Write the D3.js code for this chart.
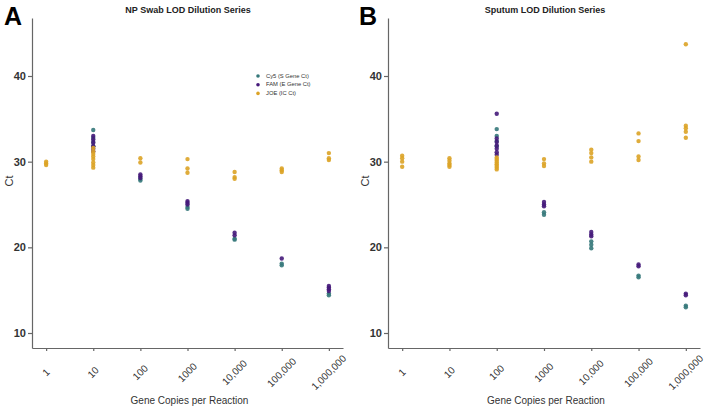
<!DOCTYPE html>
<html><head><meta charset="utf-8">
<script src="https://cdn.jsdelivr.net/npm/d3@7"></script>
<style>
body{margin:0;background:#fff;}
svg{display:block;font-family:Arial,"Liberation Sans",sans-serif;}
</style></head>
<body>
<svg id="chart" width="705" height="414"></svg>
<script>
const categories = ["1","10","100","1000","10,000","100,000","1,000,000"];
const yTicks = [10,20,30,40];
const seriesNames = ["Cy5 (S Gene Ct)","FAM (E Gene Ct)","JOE (IC Ct)"];
const seriesColors = ["#35787a","#45197a","#dca326"];

// Panel A: NP swab
const npCy5 = [[],[33.7,32.8,32.3,31.8],[28.0,27.8],[24.7,24.5],[21.0,20.9],[18.1,17.9],[14.6,14.4]];
const npFAM = [[],[33.0,32.6,32.2,31.8,31.5,31.2],[28.5,28.3,28.1],[25.4,25.2,25.0],[21.7,21.4],[18.7],[15.5,15.3,15.1,14.9]];
const npJOE = [[29.6,29.8,30.0],[31.6,31.2,30.9,30.6,30.3,29.9,29.6,29.3],[30.4,29.9],[30.3,29.2,28.7],[28.8,28.2,28.0],[29.2,29.0,28.8],[31.0,30.4,30.2]];

// Panel B: Sputum
const spCy5 = [[],[],[33.8,33.0,32.4,31.8],[24.1,23.8],[20.7,20.3,19.9],[16.7,16.5],[13.2,13.0]];
const spFAM = [[],[],[35.6,32.7,32.3,31.9,31.5,31.1,30.8],[25.3,25.0,24.8],[21.8,21.5,21.3],[18.0,17.8],[14.6,14.4]];
const spJOE = [[30.7,30.4,30.0,29.4],[30.4,30.1,29.8,29.6,29.4],[30.5,30.3,30.1,29.9,29.7,29.5,29.3,29.1],[30.3,29.8,29.5],[31.4,31.0,30.5,30.0],[33.3,32.4,30.6,30.2],[43.7,34.2,33.9,33.5,32.8]];

const titles = ["NP Swab LOD Dilution Series","Sputum LOD Dilution Series"];
const panelLetters = ["A","B"];
const xTitle = "Gene Copies per Reaction";
const yTitle = "Ct";

const svg = d3.select("#chart");
const axisColor = "#666";

function flatten(seriesList){
  const pts=[];
  seriesList.forEach((s,si)=>s.forEach((vals,ci)=>vals.forEach(v=>pts.push({cat:categories[ci],v:v,s:si}))));
  return pts;
}

const panels = [
  {left:32,right:343,series:[npCy5,npFAM,npJOE],legend:true,titleX:188,letterX:4,ctX:10},
  {left:388,right:700,series:[spCy5,spFAM,spJOE],legend:false,titleX:545,letterX:359,ctX:366}
];
const plotTop=18, plotBottom=348;

panels.forEach((p,pi)=>{
  const x = d3.scalePoint().domain(categories).range([p.left,p.right]).padding(0.3);
  const y = d3.scaleLinear().domain([8.25,46.77]).range([plotBottom,plotTop]);
  const g = svg.append("g");

  // y axis
  const ya = g.append("g").attr("transform",`translate(${p.left},0)`)
    .call(d3.axisLeft(y).tickValues(yTicks).tickSize(4).tickSizeOuter(0).tickPadding(2));
  ya.selectAll("path,line").attr("stroke",axisColor).attr("stroke-width",1.2);
  ya.selectAll("text").attr("font-size",11).attr("font-weight","bold").attr("fill","#333").attr("font-family","Arial, Liberation Sans, sans-serif");

  // x axis
  const xa = g.append("g").attr("transform",`translate(0,${plotBottom})`)
    .call(d3.axisBottom(x).tickSize(3).tickSizeOuter(0));
  xa.selectAll("path,line").attr("stroke",axisColor).attr("stroke-width",1.2);
  xa.selectAll("text")
    .attr("font-size",10).attr("fill","#333").attr("font-family","Arial, Liberation Sans, sans-serif")
    .attr("text-anchor","middle").attr("dy",null).attr("y",null)
    .attr("dominant-baseline","middle")
    .attr("transform","translate(0,25) rotate(-45)");

  // points
  const pts = flatten(p.series);
  g.append("g").selectAll("circle").data(pts).join("circle")
    .attr("cx",d=>x(d.cat)).attr("cy",d=>y(d.v)).attr("r",2.2)
    .attr("fill",d=>seriesColors[d.s]).attr("fill-opacity",0.9);

  // title
  svg.append("text").attr("x",p.titleX).attr("y",13).attr("text-anchor","middle")
    .attr("font-size",9).attr("font-weight","bold").attr("fill","#222").text(titles[pi]);
  // panel letter
  svg.append("text").attr("x",p.letterX).attr("y",25)
    .attr("font-size",25).attr("font-weight","bold").attr("fill","#000").text(panelLetters[pi]);
  // x title
  svg.append("text").attr("x",(p.left+p.right)/2+2).attr("y",404).attr("text-anchor","middle")
    .attr("font-size",10).attr("fill","#333").text(xTitle);
  // y title
  svg.append("text").attr("transform",`translate(${p.ctX},181) rotate(-90)`).attr("text-anchor","middle")
    .attr("dominant-baseline","middle")
    .attr("font-size",11).attr("fill","#333").text(yTitle);

  if(p.legend){
    const lg = svg.append("g").attr("transform","translate(258,76)");
    seriesNames.forEach((n,i)=>{
      lg.append("circle").attr("cx",0).attr("cy",i*8.7).attr("r",1.8).attr("fill",seriesColors[i]);
      lg.append("text").attr("x",8).attr("y",i*8.7).attr("dominant-baseline","middle")
        .attr("font-size",5.8).attr("fill","#333").text(n);
    });
  }
});
</script>
</body></html>
